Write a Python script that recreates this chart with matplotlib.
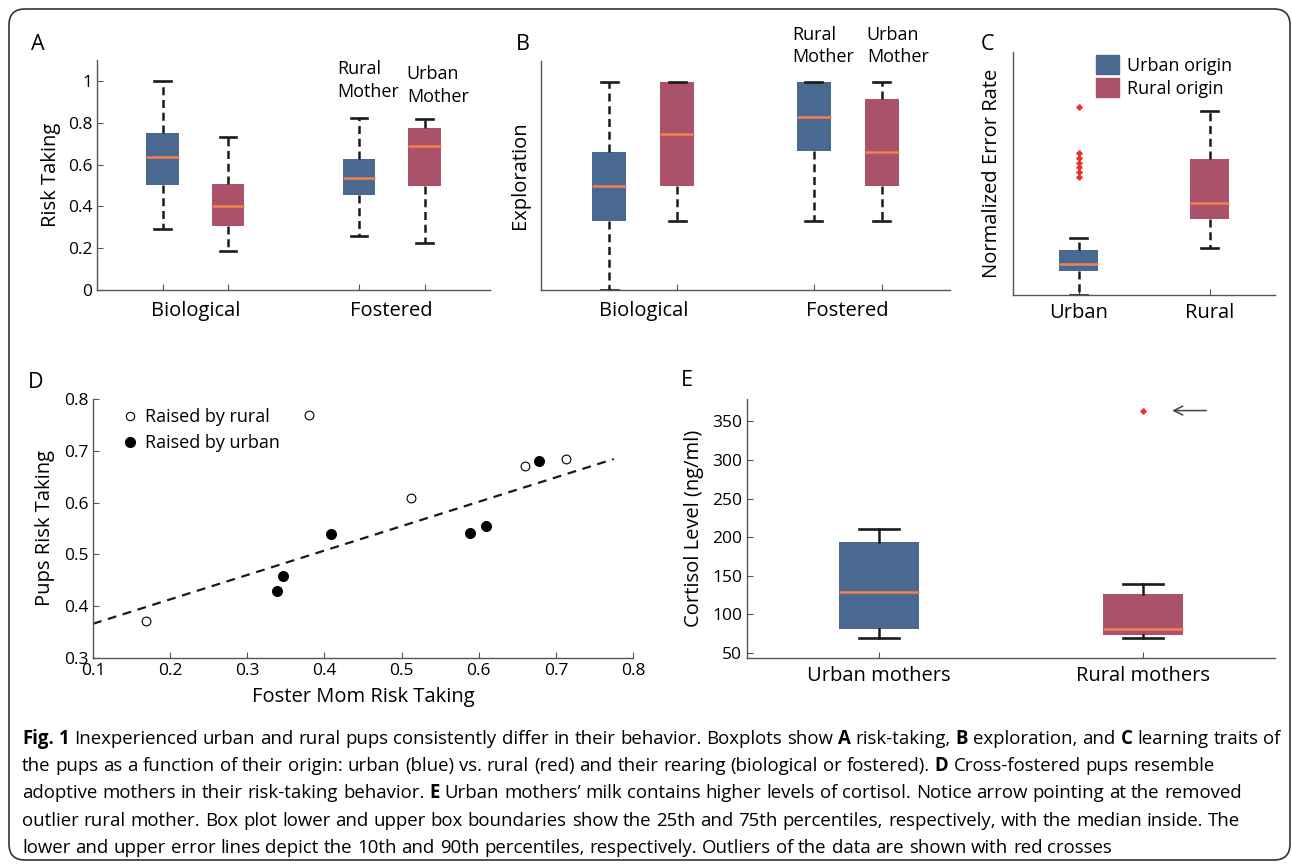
import matplotlib.pyplot as plt
from matplotlib.patches import FancyBboxPatch, Patch
from matplotlib.lines import Line2D
from matplotlib.transforms import IdentityTransform, blended_transform_factory

plt.rcParams['font.family'] = ['Open Sans', 'DejaVu Sans']

# colours
BLUE = '#496990'
RED = '#aa5269'
ORANGE = '#f4804f'
INK = '#1a1a1a'
AXIS = '#555555'

# Panel A - risk taking (bio urban, bio rural, fostered urban, fostered rural)
a_pos = [1, 2, 4, 5]
a_low = [0.29, 0.187, 0.26, 0.227]
a_q1 = [0.50, 0.304, 0.453, 0.497]
a_med = [0.634, 0.40, 0.537, 0.69]
a_q3 = [0.75, 0.505, 0.628, 0.774]
a_high = [1.0, 0.732, 0.825, 0.82]
a_yticks = [0, 0.2, 0.4, 0.6, 0.8, 1]
a_yticklabels = ['0', '0.2', '0.4', '0.6', '0.8', '1']

# Panel B - exploration (arbitrary units)
b_pos = [1, 2, 4, 5]
b_low = [0.0, 0.332, 0.332, 0.332]
b_q1 = [0.332, 0.50, 0.667, 0.50]
b_med = [0.499, 0.748, 0.831, 0.665]
b_q3 = [0.664, 1.0, 1.0, 0.919]
b_high = [1.0, 1.0, 1.0, 1.0]

group_labels = ['Biological', 'Fostered']
group_pos = [1.5, 4.5]
box_colors = [BLUE, RED, BLUE, RED]

# Panel C - normalized error rate
c_pos = [1, 2]
c_labels = ['Urban', 'Rural']
c_low = [0.0, 0.195]
c_q1 = [0.10, 0.314]
c_med = [0.128, 0.377]
c_q3 = [0.185, 0.561]
c_high = [0.233, 0.757]
c_fliers = [[0.772, 0.585, 0.565, 0.545, 0.525, 0.505, 0.485], []]
legend_labels = ['Urban origin', 'Rural origin']

# Panel D - pups vs foster mom risk taking
d_rural_x = [0.169, 0.380, 0.512, 0.660, 0.713]
d_rural_y = [0.371, 0.770, 0.609, 0.671, 0.685]
d_urban_x = [0.339, 0.346, 0.408, 0.589, 0.610, 0.678]
d_urban_y = [0.430, 0.459, 0.540, 0.542, 0.555, 0.681]
fit_slope, fit_intercept = 0.471, 0.319
fit_range = [0.1, 0.775]
d_xticks = [0.1, 0.2, 0.3, 0.4, 0.5, 0.6, 0.7, 0.8]
d_yticks = [0.3, 0.4, 0.5, 0.6, 0.7, 0.8]

# Panel E - cortisol in milk
e_pos = [1, 2]
e_labels = ['Urban mothers', 'Rural mothers']
e_low = [69.5, 69.5]
e_q1 = [81.2, 73.4]
e_med = [129.2, 81.7]
e_q3 = [193.8, 127.0]
e_high = [210.6, 139.2]
e_fliers = [[], [364.0]]
e_yticks = [50, 100, 150, 200, 250, 300, 350]

caption = [
    "**Fig.** **1** Inexperienced urban and rural pups consistently differ in their behavior. Boxplots show **A** risk-taking, **B** exploration, and **C** learning traits of",
    "the pups as a function of their origin: urban (blue) vs. rural (red) and their rearing (biological or fostered). **D** Cross-fostered pups resemble",
    "adoptive mothers in their risk-taking behavior. **E** Urban mothers\u2019 milk contains higher levels of cortisol. Notice arrow pointing at the removed",
    "outlier rural mother. Box plot lower and upper box boundaries show the 25th and 75th percentiles, respectively, with the median inside. The",
    "lower and upper error lines depict the 10th and 90th percentiles, respectively. Outliers of the data are shown with red crosses",
]

W, H = 1292, 864
fig = plt.figure(figsize=(W / 100, H / 100), dpi=100)


def px_axes(l, t, r, b):
    return fig.add_axes([l / W, 1 - b / H, (r - l) / W, (b - t) / H])


def style(ax):
    for s in ['top', 'right']:
        ax.spines[s].set_visible(False)
    for s in ['left', 'bottom']:
        ax.spines[s].set_color(AXIS)
        ax.spines[s].set_linewidth(1.0)
    ax.tick_params(direction='in', color=AXIS, length=4, labelsize=12.5)


def draw_boxes(ax, pos, low, q1, med, q3, high, colors, width, capw, dashed, fliers=None):
    stats = []
    for i in range(len(pos)):
        stats.append(dict(whislo=low[i], q1=q1[i], med=med[i], q3=q3[i], whishi=high[i],
                          fliers=fliers[i] if fliers else []))
    ls = (0, (3.2, 1.9)) if dashed else '-'
    bp = ax.bxp(stats, positions=pos, widths=width, capwidths=capw, patch_artist=True,
                boxprops=dict(linewidth=0),
                medianprops=dict(color=ORANGE, linewidth=1.8),
                whiskerprops=dict(color=INK, linewidth=1.8, linestyle=ls),
                capprops=dict(color=INK, linewidth=1.9),
                flierprops=dict(marker='+', markeredgecolor='#e8302a', markersize=5,
                                markeredgewidth=2, linestyle='none'))
    for patch, c in zip(bp['boxes'], colors):
        patch.set_facecolor(c)
        patch.set_edgecolor(c)
    return bp


# ---- A ----
axA = px_axes(97, 60, 490, 290)
style(axA)
draw_boxes(axA, a_pos, a_low, a_q1, a_med, a_q3, a_high, box_colors, 0.5, 0.25, True)
axA.set_xlim(0, 6)
axA.set_ylim(0, 1.1)
axA.set_yticks(a_yticks, a_yticklabels)
axA.set_xticks(a_pos, ['', '', '', ''])
axA.set_ylabel('Risk Taking', fontsize=14.5, labelpad=5)
tA = blended_transform_factory(axA.transData, axA.transAxes)
for g, p in zip(group_labels, group_pos):
    axA.text(p, -0.09, g, transform=tA, ha='center', va='center', fontsize=14.5)
axA.text(3.67, 1.0, 'Rural\nMother', ha='left', va='center', fontsize=13, linespacing=1.35)
axA.text(4.73, 0.976, 'Urban\nMother', ha='left', va='center', fontsize=13, linespacing=1.35)

# ---- B ----
axB = px_axes(541, 61, 950, 290)
style(axB)
draw_boxes(axB, b_pos, b_low, b_q1, b_med, b_q3, b_high, box_colors, 0.5, 0.25, True)
axB.set_xlim(0, 6)
axB.set_ylim(0, 1.1)
axB.set_yticks([])
axB.set_xticks(b_pos, ['', '', '', ''])
axB.set_ylabel('Exploration', fontsize=14.5, labelpad=8)
tB = blended_transform_factory(axB.transData, axB.transAxes)
for g, p in zip(group_labels, group_pos):
    axB.text(p, -0.09, g, transform=tB, ha='center', va='center', fontsize=14.5)
axB.text(3.69, 1.172, 'Rural\nMother', ha='left', va='center', fontsize=13,
         linespacing=1.35, clip_on=False)
axB.text(4.78, 1.172, 'Urban\nMother', ha='left', va='center', fontsize=13,
         linespacing=1.35, clip_on=False)

# ---- C ----
axC = px_axes(1013, 52, 1275, 295)
style(axC)
draw_boxes(axC, c_pos, c_low, c_q1, c_med, c_q3, c_high, [BLUE, RED], 0.3, 0.135, True,
           fliers=c_fliers)
axC.set_xlim(0.5, 2.5)
axC.set_ylim(0, 1)
axC.set_yticks([])
axC.set_xticks(c_pos, c_labels, fontsize=14.5)
axC.tick_params(axis='x', pad=6)
axC.set_ylabel('Normalized Error Rate', fontsize=14.5, labelpad=8)
handles = [Patch(facecolor=BLUE, edgecolor=BLUE), Patch(facecolor=RED, edgecolor=RED)]
axC.legend(handles, legend_labels, loc='upper left', bbox_to_anchor=(0.317, 0.988),
           frameon=False, fontsize=13, handlelength=1.25, handleheight=1.25,
           handletextpad=0.45, labelspacing=0.2, borderpad=0, borderaxespad=0)

# ---- D ----
axD = px_axes(93, 399, 633, 658)
style(axD)
axD.scatter(d_rural_x, d_rural_y, s=40, facecolor='white', edgecolor='black', linewidth=0.8,
            zorder=3)
axD.scatter(d_urban_x, d_urban_y, s=48, facecolor='black', edgecolor='black', zorder=3)
fx = fit_range
fy = [fit_slope * x + fit_intercept for x in fx]
axD.plot(fx, fy, color=INK, linewidth=1.6, linestyle=(0, (4, 3)))
axD.set_xlim(0.1, 0.8)
axD.set_ylim(0.3, 0.8)
axD.set_xticks(d_xticks, [f'{v:g}' for v in d_xticks])
axD.set_yticks(d_yticks, [f'{v:g}' for v in d_yticks])
axD.set_xlabel('Foster Mom Risk Taking', fontsize=14.5, labelpad=6)
axD.set_ylabel('Pups Risk Taking', fontsize=14.5, labelpad=6)
d_handles = [Line2D([], [], marker='o', ls='none', mfc='white', mec='black', ms=6, mew=0.8),
             Line2D([], [], marker='o', ls='none', mfc='black', mec='black', ms=7)]
axD.legend(d_handles, ['Raised by rural', 'Raised by urban'], loc='upper left',
           bbox_to_anchor=(0.058, 0.965), frameon=False, fontsize=13, handlelength=0.6,
           handletextpad=0.55, labelspacing=0.45, borderpad=0, borderaxespad=0)

# ---- E ----
axE = px_axes(747, 399, 1275, 658)
style(axE)
draw_boxes(axE, e_pos, e_low, e_q1, e_med, e_q3, e_high, [BLUE, RED], 0.3, 0.148, False,
           fliers=e_fliers)
axE.set_xlim(0.5, 2.5)
axE.set_ylim(43.5, 379)
axE.set_yticks(e_yticks)
axE.set_xticks(e_pos, e_labels, fontsize=14.5)
axE.tick_params(axis='x', pad=6)
axE.set_ylabel('Cortisol Level (ng/ml)', fontsize=14.5, labelpad=6)
axE.annotate('', xy=(2.10, e_fliers[1][0]), xytext=(2.25, e_fliers[1][0]),
             arrowprops=dict(arrowstyle='->', color='#444444', lw=1.1, mutation_scale=16))

# panel letters
for letter, (x, y) in zip('ABCDE', [(38, 45), (523, 45), (988, 45), (36, 382), (687, 381)]):
    fig.text(x / W, 1 - y / H, letter, fontsize=15.5, ha='center', va='center')

# frame
frame = FancyBboxPatch((9, 4), 1281, 851, boxstyle='round,pad=0,rounding_size=16',
                       transform=IdentityTransform(), fill=False, edgecolor='#333333', lw=1.2)
fig.add_artist(frame)

# caption with bold runs
renderer = fig.canvas.get_renderer()


def tokens(line):
    out = []
    for w in line.split(' '):
        if w.startswith('**') and w.endswith('**'):
            out.append((w[2:-2], True))
        else:
            out.append((w, False))
    return out


def text_width(s, size, bold):
    t = fig.text(0, 0, s, fontsize=size, weight='bold' if bold else 'normal')
    w = t.get_window_extent(renderer).width
    t.remove()
    return w


base = 12
space_w = text_width('a a', base, False) - text_width('aa', base, False)
line_w = sum(text_width(w, base, b) for w, b in tokens(caption[0])) + space_w * (len(tokens(caption[0])) - 1)
cap_size = base * 1252 / line_w
space_w = space_w * cap_size / base

for i, line in enumerate(caption):
    x = 22
    y = 739 + i * 27.2
    for w, b in tokens(line):
        t = fig.text(x / W, 1 - y / H, w, fontsize=cap_size, weight='bold' if b else 'normal',
                     va='center', ha='left')
        x += t.get_window_extent(renderer).width + space_w

fig.savefig('out.png', dpi=100)
